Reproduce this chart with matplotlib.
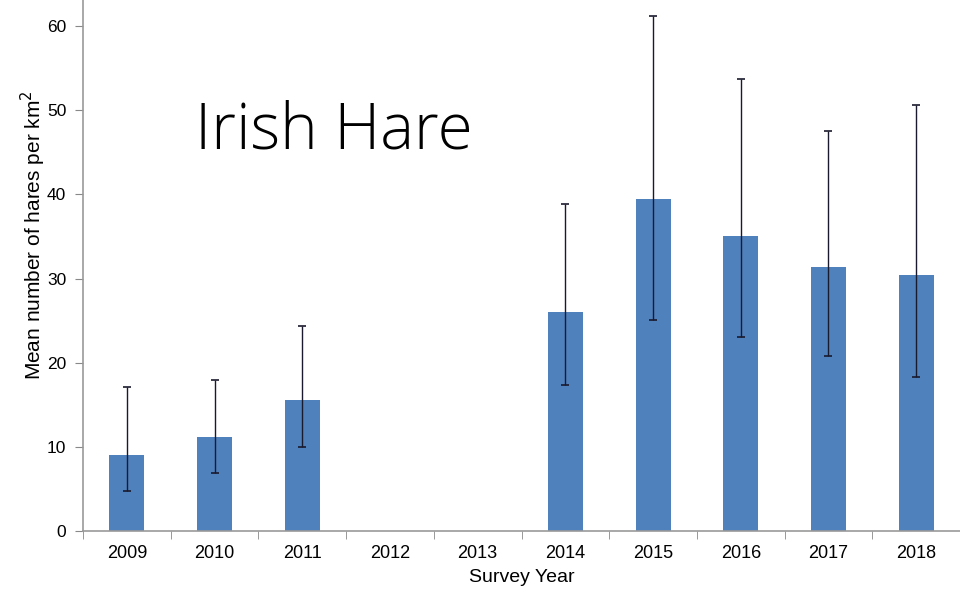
import matplotlib
matplotlib.use("Agg")
import matplotlib.pyplot as plt
import numpy as np

years = ["2009", "2010", "2011", "2012", "2013", "2014", "2015", "2016", "2017", "2018"]
means = [9.05, 11.2, 15.6, np.nan, np.nan, 26.0, 39.4, 35.1, 31.4, 30.4]
err_upper = [17.1, 17.9, 24.4, np.nan, np.nan, 38.8, 61.2, 53.7, 47.5, 50.6]
err_lower = [4.8, 6.9, 10.0, np.nan, np.nan, 17.4, 25.1, 23.0, 20.8, 18.3]

FONT = "Liberation Sans"

fig = plt.figure(figsize=(9.6, 6.06), dpi=100)
ax = fig.add_axes([83/960, 75/606, 1 - 83/960, 1 - 75/606])

x = np.arange(len(years))
m = np.array(means, dtype=float)
up = np.array(err_upper, dtype=float)
lo = np.array(err_lower, dtype=float)
ax.bar(x, np.nan_to_num(m), width=0.4, color="#4F81BD", zorder=2)
ax.errorbar(x, m, yerr=[m - lo, up - m], fmt="none", ecolor="#1a1a2e",
            elinewidth=1, capsize=3, capthick=1.2, zorder=3)

ax.set_xlim(-0.5, len(years) - 0.5)
ax.set_ylim(0, 63.1)
ax.set_yticks(np.arange(0, 61, 10))
ax.set_xticks(x)
ax.set_xticklabels(years)
ax.set_xticks(np.arange(-0.5, len(years), 1), minor=True)
ax.tick_params(axis="x", which="major", length=0, pad=10, labelsize=13)
ax.tick_params(axis="x", which="minor", length=6, color="#888888", direction="out")
ax.tick_params(axis="y", length=6, color="#888888", direction="out", labelsize=12.5, pad=6)

for s in ["top", "right"]:
    ax.spines[s].set_visible(False)
for s in ["left", "bottom"]:
    ax.spines[s].set_color("#999999")
    ax.spines[s].set_linewidth(1.2)

for lab in ax.get_xticklabels() + ax.get_yticklabels():
    lab.set_family(FONT)

ax.set_ylabel("Mean number of hares per km$^2$", fontsize=15, family=FONT,
              va="center")
ax.yaxis.set_label_coords(-0.057, 0.557)
ax.set_xlabel("Survey Year", fontsize=14, family=FONT, labelpad=5)

fig.text(195/960, 1 - 148/606, "Irish Hare", fontsize=46, family="Open Sans",
         fontweight="light", color="black", va="baseline", ha="left")

fig.savefig("out.png", dpi=100)
